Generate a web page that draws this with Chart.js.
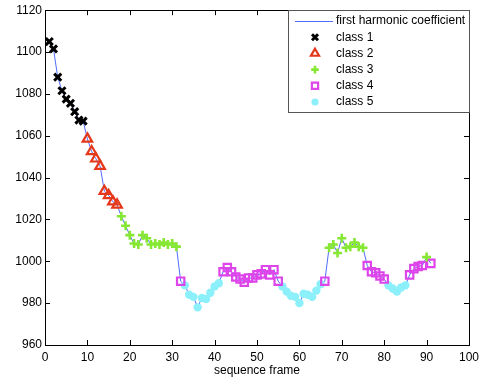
<!DOCTYPE html>
<html>
<head>
<meta charset="utf-8">
<script src="https://cdn.jsdelivr.net/npm/chart.js@4.4.1/dist/chart.umd.min.js"></script>
<style>
  html, body { margin: 0; padding: 0; background: #fff; }
  #wrap { width: 484px; height: 381px; position: relative; }
</style>
</head>
<body>
<div id="wrap"><canvas id="c"></canvas></div>
<script>
// first harmonic coefficient per sequence frame, with the class of each frame
const frames = [
  1, 2, 3, 4, 5, 6, 7, 8, 9, 10, 11, 12, 13, 14, 15, 16, 17, 18, 19, 20,
  21, 22, 23, 24, 25, 26, 27, 28, 29, 30, 31, 32, 33, 34, 35, 36, 37, 38, 39, 40,
  41, 42, 43, 44, 45, 46, 47, 48, 49, 50, 51, 52, 53, 54, 55, 56, 57, 58, 59, 60,
  61, 62, 63, 64, 65, 66, 67, 68, 69, 70, 71, 72, 73, 74, 75, 76, 77, 78, 79, 80,
  81, 82, 83, 84, 85, 86, 87, 88, 89, 90, 91,
];
const coeff = [
  1105, 1101.5, 1088, 1081.5, 1077.5, 1075.5, 1071.5, 1067.5, 1067,
  1058.5, 1052.5, 1049, 1045.5, 1033.5, 1031.5, 1028.5, 1027,
  1021.5, 1017, 1012.5, 1008.5, 1008, 1012.5, 1011, 1008, 1008.5, 1008, 1009, 1008, 1008.5, 1007,
  990.5,
  988.5, 984, 983, 978, 982.5, 982, 985, 988, 989.5,
  995, 997, 995, 992.5, 991.5, 990, 992, 992, 993.5, 994, 996, 993.5, 996, 990.5,
  988, 985.5, 983.5, 983, 980, 984.5, 984, 983, 986, 989,
  990.5,
  1006.5, 1008, 1004, 1011, 1006.5, 1007, 1009, 1007, 1006.5,
  998, 995, 994.5, 993, 991.5,
  988.5, 987, 985.5, 987.5, 988.5,
  993.5, 996.5, 997.5, 998,
  1002,
  999,
];
const frameClass = [
  1, 1, 1, 1, 1, 1, 1, 1, 1,
  2, 2, 2, 2, 2, 2, 2, 2,
  3, 3, 3, 3, 3, 3, 3, 3, 3, 3, 3, 3, 3, 3,
  4,
  5, 5, 5, 5, 5, 5, 5, 5, 5,
  4, 4, 4, 4, 4, 4, 4, 4, 4, 4, 4, 4, 4, 4,
  5, 5, 5, 5, 5, 5, 5, 5, 5, 5,
  4,
  3, 3, 3, 3, 3, 3, 3, 3, 3,
  4, 4, 4, 4, 4,
  5, 5, 5, 5, 5,
  4, 4, 4, 4,
  3,
  4,
];
const xTicks = [0, 10, 20, 30, 40, 50, 60, 70, 80, 90, 100];
const yTicks = [960, 980, 1000, 1020, 1040, 1060, 1080, 1100, 1120];
const lineLabel = "first harmonic coefficient";
const classLabels = ["class 1", "class 2", "class 3", "class 4", "class 5"];

const FONT = '"Liberation Sans", Arial, Helvetica, sans-serif';
const LINE = "rgba(20,60,255,0.75)";
const markers = [
  { pointStyle: "crossRot", radius: 5, borderWidth: 3, color: "#000000", fill: "#000000" },
  { pointStyle: "triangle", radius: 5.5, borderWidth: 2.2, color: "#e5381b", fill: "rgba(0,0,0,0)" },
  { pointStyle: "cross", radius: 4.5, borderWidth: 2.6, color: "#86e832", fill: "#86e832" },
  { pointStyle: "rect", radius: 5.2, borderWidth: 2.2, color: "#dd45ea", fill: "rgba(0,0,0,0)" },
  { pointStyle: "circle", radius: 4.2, borderWidth: 0, color: "#8cf0fb", fill: "#8cf0fb" },
];

const datasets = classLabels.map((label, k) => ({
  type: "scatter",
  label,
  data: frames.filter((f, i) => frameClass[i] === k + 1).map((f) => ({ x: f, y: coeff[frames.indexOf(f)] })),
  pointStyle: markers[k].pointStyle,
  pointRadius: markers[k].radius,
  pointBorderWidth: markers[k].borderWidth,
  pointBorderColor: markers[k].color,
  pointBackgroundColor: markers[k].fill,
  showLine: false,
}));
datasets.push({
  type: "line",
  label: lineLabel,
  data: frames.map((f, i) => ({ x: f, y: coeff[i] })),
  borderColor: LINE,
  borderWidth: 1,
  pointRadius: 0,
  tension: 0,
  order: 1,
});

// MATLAB-style box, inward ticks and boxed legend
const frameAndLegend = {
  id: "frameAndLegend",
  afterDraw(chart) {
    const { ctx, chartArea: a, scales: { x, y } } = chart;
    ctx.save();
    ctx.strokeStyle = "#000";
    ctx.lineWidth = 1;
    ctx.beginPath();
    for (const t of xTicks) {
      const px = Math.round(x.getPixelForValue(t)) + 0.5;
      ctx.moveTo(px, a.bottom); ctx.lineTo(px, a.bottom - 5);
      ctx.moveTo(px, a.top); ctx.lineTo(px, a.top + 5);
    }
    for (const t of yTicks) {
      const py = Math.round(y.getPixelForValue(t)) + 0.5;
      ctx.moveTo(a.left, py); ctx.lineTo(a.left + 5, py);
      ctx.moveTo(a.right, py); ctx.lineTo(a.right - 5, py);
    }
    ctx.stroke();
    ctx.strokeRect(Math.round(a.left) + 0.5, Math.round(a.top) + 0.5, Math.round(a.right - a.left), Math.round(a.bottom - a.top));

    // legend
    const lx = 288, ly = Math.round(a.top), lw = Math.round(a.right) - lx, lh = 102;
    ctx.fillStyle = "#fff";
    ctx.fillRect(lx, ly, lw, lh);
    ctx.strokeStyle = "#555";
    ctx.strokeRect(lx + 0.5, ly + 0.5, lw, lh);
    ctx.font = "12px " + FONT;
    ctx.textBaseline = "middle";
    ctx.fillStyle = "#000";
    const rowY = (i) => ly + 11 + i * 16.2;
    ctx.strokeStyle = LINE;
    ctx.beginPath();
    ctx.moveTo(295, Math.round(rowY(0)) + 0.5);
    ctx.lineTo(333, Math.round(rowY(0)) + 0.5);
    ctx.stroke();
    ctx.fillText(lineLabel, 336, rowY(0));
    classLabels.forEach((label, k) => {
      const m = markers[k];
      const cy = rowY(k + 1);
      ctx.strokeStyle = m.color;
      ctx.fillStyle = m.fill;
      ctx.lineWidth = m.borderWidth || 1;
      Chart.helpers.drawPoint(ctx, { pointStyle: m.pointStyle, radius: m.radius * 0.85, rotation: 0, borderWidth: m.borderWidth }, 315, cy);
      ctx.fillStyle = "#000";
      ctx.fillText(label, 336, cy);
    });
    ctx.restore();
  },
};

new Chart(document.getElementById("c"), {
  data: { datasets },
  options: {
    responsive: true,
    maintainAspectRatio: false,
    animation: false,
    layout: { padding: { left: 0, top: 10, right: 13, bottom: 0 } },
    plugins: { legend: { display: false }, tooltip: { enabled: false } },
    scales: {
      x: {
        type: "linear",
        min: 0, max: 100,
        grid: { display: false, drawTicks: false },
        border: { display: false },
        afterBuildTicks: (s) => { s.ticks = xTicks.map((v) => ({ value: v })); },
        afterFit: (s) => { s.height = 36; },
        ticks: { color: "#000", font: { family: FONT, size: 12 }, padding: 5, maxRotation: 0, callback: (v) => String(v) },
        title: { display: true, text: "sequence frame", color: "#000", font: { family: FONT, size: 12 }, padding: { top: 0, bottom: 3 } },
      },
      y: {
        type: "linear",
        min: 960, max: 1120,
        grid: { display: false, drawTicks: false },
        border: { display: false },
        afterBuildTicks: (s) => { s.ticks = yTicks.map((v) => ({ value: v })); },
        afterFit: (s) => { s.width = 45; },
        ticks: { color: "#000", font: { family: FONT, size: 12 }, padding: 3, callback: (v) => String(v) },
      },
    },
  },
  plugins: [frameAndLegend],
});
</script>
</body>
</html>
